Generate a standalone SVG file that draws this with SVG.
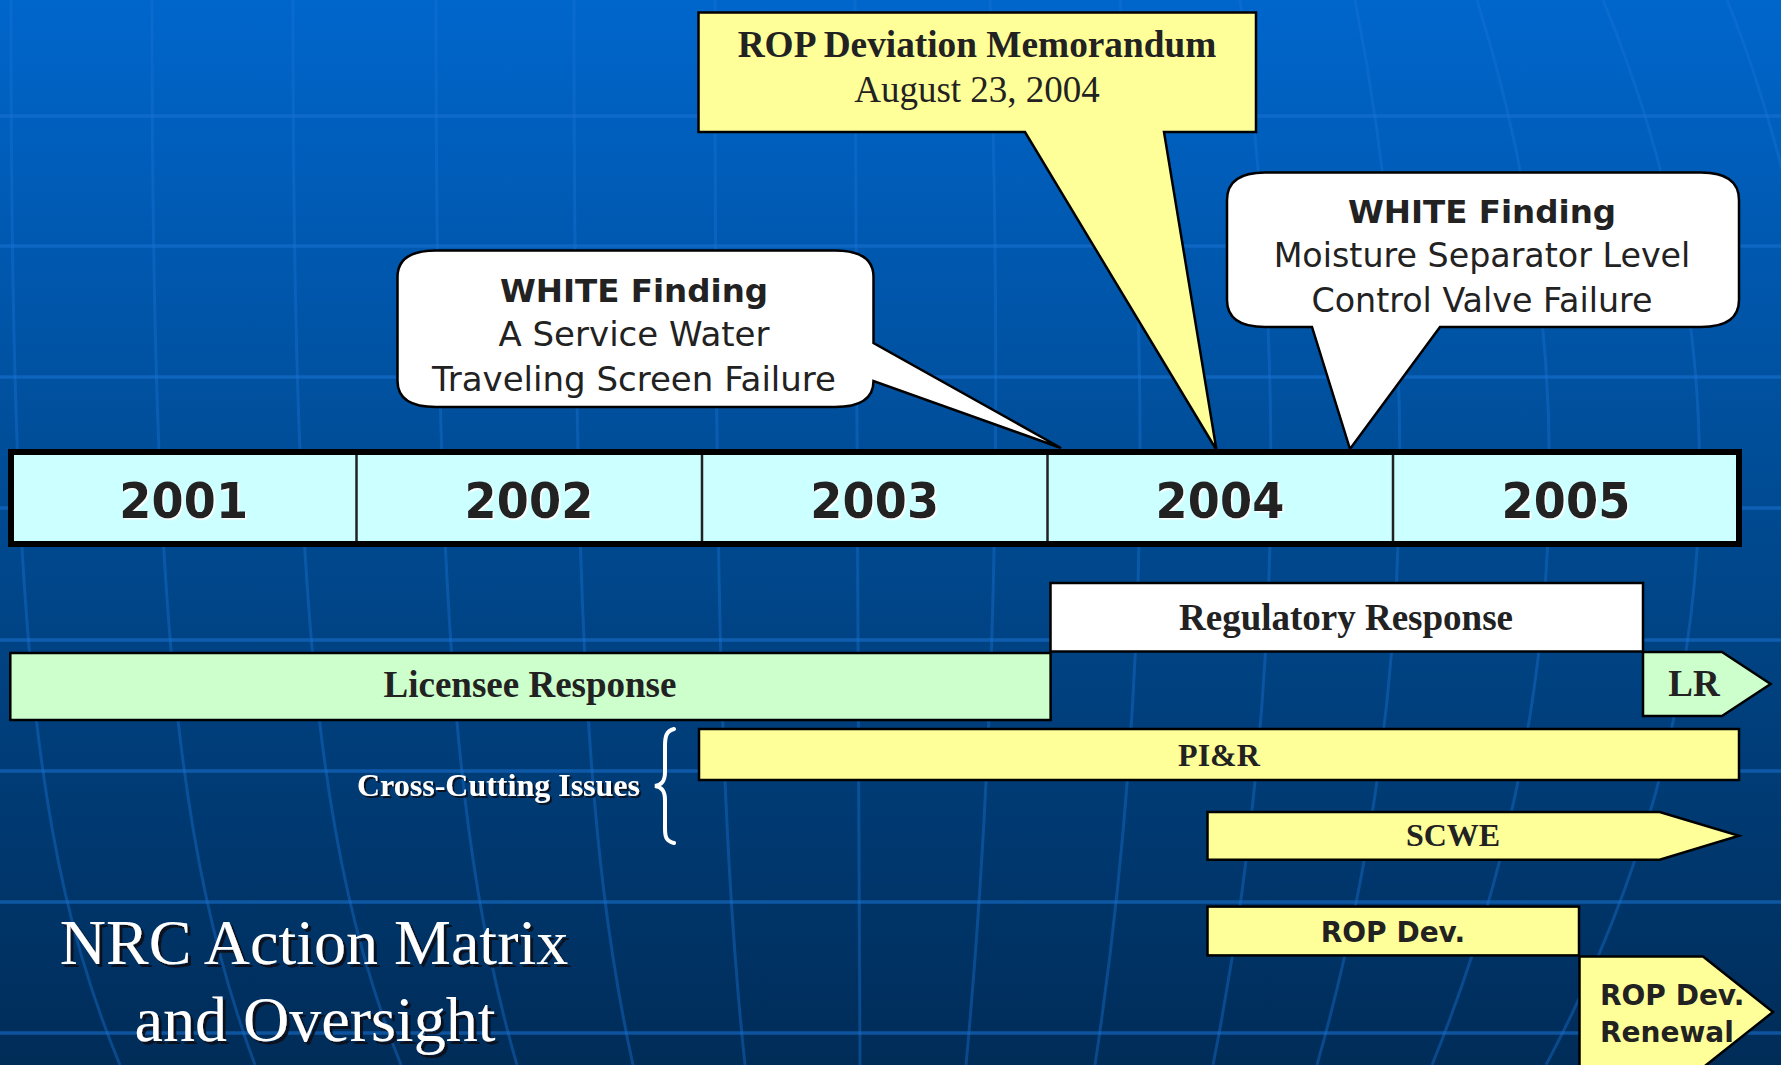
<svg xmlns="http://www.w3.org/2000/svg" width="1781" height="1065" viewBox="0 0 1781 1065">
<defs>
<linearGradient id="bg" x1="0" y1="0" x2="0" y2="1">
<stop offset="0" stop-color="#0066CC"/>
<stop offset="0.5" stop-color="#00498F"/>
<stop offset="1" stop-color="#002C58"/>
</linearGradient>
<filter id="wshadow" x="-10%" y="-20%" width="120%" height="140%">
<feDropShadow dx="1.5" dy="1.5" stdDeviation="0" flood-color="#FFFFFF" flood-opacity="1"/>
</filter>
<filter id="dshadow" x="-10%" y="-20%" width="120%" height="140%">
<feDropShadow dx="3" dy="3" stdDeviation="0" flood-color="#0A0A14" flood-opacity="0.9"/>
</filter>
<filter id="dshadow2" x="-10%" y="-20%" width="120%" height="140%">
<feDropShadow dx="2" dy="2" stdDeviation="0" flood-color="#0A0A14" flood-opacity="0.9"/>
</filter>
</defs>
<style>
.hl{stroke:#1A72D4;stroke-opacity:0.55;stroke-width:3.5;fill:none}
.ml{stroke:#1A72D4;stroke-opacity:0.4;stroke-width:3;fill:none}
.box{stroke:#000;stroke-width:2.5}
.yel{fill:#FFFF99}
.grn{fill:#CCFFCC}
.wht{fill:#FFFFFF}
.callout{fill:#FFFFFF;stroke:#000;stroke-width:2.5;stroke-linejoin:miter}
.serifb{font-family:"Liberation Serif","Times New Roman",serif;font-weight:bold;fill:#222}
.serif{font-family:"Liberation Serif","Times New Roman",serif;fill:#222}
.sans{font-family:"DejaVu Sans",Verdana,sans-serif;fill:#222}
.sansb{font-family:"DejaVu Sans",Verdana,sans-serif;font-weight:bold;fill:#222}
.year{font-family:"DejaVu Sans",Verdana,sans-serif;font-weight:bold;font-size:50.6px;fill:#222;filter:url(#wshadow)}
.mid{text-anchor:middle}
</style>
<rect x="0" y="0" width="1781" height="1065" fill="url(#bg)"/>
<g id="background-grid">
<line class="hl" x1="0" y1="116" x2="1781" y2="116"/>
<line class="hl" x1="0" y1="246" x2="1781" y2="246"/>
<line class="hl" x1="0" y1="377" x2="1781" y2="377"/>
<line class="hl" x1="0" y1="508" x2="1781" y2="508"/>
<line class="hl" x1="0" y1="640" x2="1781" y2="640"/>
<line class="hl" x1="0" y1="771" x2="1781" y2="771"/>
<line class="hl" x1="0" y1="902" x2="1781" y2="902"/>
<line class="hl" x1="0" y1="1033" x2="1781" y2="1033"/>
<path class="ml" d="M11,0 C11,600 30,850 120,1065"/>
<path class="ml" d="M152,0 C152,600 175,850 255,1065"/>
<path class="ml" d="M293,0 C293,600 315,850 401,1065"/>
<path class="ml" d="M436,0 C436,600 455,850 517,1065"/>
<path class="ml" d="M574,0 C574,600 586,850 633,1065"/>
<path class="ml" d="M715,0 C715,600 722,850 745,1065"/>
<path class="ml" d="M855,0 C856,600 858,850 860,1065"/>
<path class="ml" d="M990,0 C1000,350 1000,700 966,1065"/>
<path class="ml" d="M1120,0 C1150,350 1150,700 1095,1065"/>
<path class="ml" d="M1240,0 C1285,350 1285,700 1213,1065"/>
<path class="ml" d="M1355,0 C1420,330 1420,700 1317,1065"/>
<path class="ml" d="M1477,0 C1580,330 1580,700 1432,1065"/>
<path class="ml" d="M1603,0 C1740,330 1740,700 1546,1065"/>
<path class="ml" d="M1727,0 Q1760,80 1790,200"/>
</g>

<g id="connectors">
<path d="M674,729 C666,731 665,737 665,746 L665,772 C665,781 662,785 655,786 C662,787 665,791 665,800 L665,828 C665,837 666,841 674,843" fill="none" stroke="#FFFFFF" stroke-width="4" stroke-linecap="round"/>
</g>

<g id="rop-memo">
<path class="callout" style="fill:#FFFF99" d="M698.5,12.5 L1256,12.5 L1256,132 L1164,132 L1216.5,450 L1025,132 L698.5,132 Z"/>
<text class="serifb mid" x="977" y="57" font-size="37.3">ROP Deviation Memorandum</text>
<text class="serif mid" x="977" y="102" font-size="37">August 23, 2004</text>
</g>

<g id="white-finding-1">
<path class="callout" d="M436,250.5 L835,250.5 Q873.5,250.5 873.5,277 L873.5,343 L1061,448 L873.5,381 Q873.5,407 835,407 L436,407 Q397.5,407 397.5,381 L397.5,277 Q397.5,250.5 436,250.5 Z"/>
<text class="sansb mid" x="634" y="301.7" font-size="32.5">WHITE Finding</text>
<text class="sans mid" x="634" y="346" font-size="34">A Service Water</text>
<text class="sans mid" x="634" y="391" font-size="34">Traveling Screen Failure</text>
</g>

<g id="white-finding-2">
<path class="callout" d="M1265,172.5 L1701,172.5 Q1739,172.5 1739,200 L1739,300 Q1739,327 1701,327 L1440,327 L1350,449 L1312,327 L1265,327 Q1227,327 1227,300 L1227,200 Q1227,172.5 1265,172.5 Z"/>
<text class="sansb mid" x="1482" y="223.3" font-size="32.5">WHITE Finding</text>
<text class="sans mid" x="1482" y="267.3" font-size="33.3">Moisture Separator Level</text>
<text class="sans mid" x="1482" y="311.7" font-size="33.3">Control Valve Failure</text>
</g>

<g id="timeline">
<rect x="11" y="452" width="1728" height="92" fill="#CCFFFF" stroke="#000" stroke-width="6"/>
<line x1="356.5" y1="455" x2="356.5" y2="541" stroke="#222" stroke-width="2.5"/>
<line x1="702" y1="455" x2="702" y2="541" stroke="#222" stroke-width="2.5"/>
<line x1="1047.5" y1="455" x2="1047.5" y2="541" stroke="#222" stroke-width="2.5"/>
<line x1="1393" y1="455" x2="1393" y2="541" stroke="#222" stroke-width="2.5"/>
<text class="year mid" x="183.8" y="517.7" textLength="129" lengthAdjust="spacingAndGlyphs">2001</text>
<text class="year mid" x="529" y="517.7" textLength="129" lengthAdjust="spacingAndGlyphs">2002</text>
<text class="year mid" x="874.7" y="517.7" textLength="129" lengthAdjust="spacingAndGlyphs">2003</text>
<text class="year mid" x="1220" y="517.7" textLength="129" lengthAdjust="spacingAndGlyphs">2004</text>
<text class="year mid" x="1566" y="517.7" textLength="129" lengthAdjust="spacingAndGlyphs">2005</text>
</g>

<g id="regulatory-response">
<rect class="box wht" x="1050.5" y="583" width="592.5" height="68.5"/>
<text class="serifb mid" x="1346" y="630.4" font-size="37">Regulatory Response</text>
</g>

<g id="licensee-response">
<rect class="box grn" x="10.3" y="653" width="1040.3" height="67"/>
<text class="serifb mid" x="530" y="697.4" font-size="37">Licensee Response</text>
</g>

<g id="lr">
<path class="box grn" d="M1643,652 L1722,652 L1770.6,684 L1722,716 L1643,716 Z"/>
<text class="serifb mid" x="1694" y="696" font-size="37">LR</text>
</g>

<g id="cross-cutting">
<text x="640" y="796" font-size="32" text-anchor="end" style="font-family:'Liberation Serif','Times New Roman',serif;font-weight:bold;fill:#FFFFFF;filter:url(#dshadow2)">Cross-Cutting Issues</text>
</g>

<g id="pir">
<rect class="box yel" x="699" y="729" width="1040" height="51"/>
<text class="serifb mid" x="1219" y="766" font-size="32">PI&amp;R</text>
</g>

<g id="scwe">
<path class="box yel" d="M1207.5,812 L1659.7,812 L1739,835.8 L1659.7,859.7 L1207.5,859.7 Z"/>
<text class="serifb mid" x="1453" y="846.3" font-size="32">SCWE</text>
</g>

<g id="rop-dev">
<rect class="box yel" x="1207.5" y="906.6" width="371.5" height="48.8"/>
<text class="sansb mid" x="1393" y="941.8" font-size="28">ROP Dev.</text>
</g>

<g id="rop-dev-renewal">
<path class="box yel" d="M1579.5,956.5 L1703,956.5 L1773,1012 L1703,1067.5 L1579.5,1067.5 Z"/>
<text class="sansb" x="1600" y="1004.5" font-size="28">ROP Dev.</text>
<text class="sansb" x="1600" y="1042" font-size="28">Renewal</text>
</g>

<g id="title">
<text x="314" y="963.5" font-size="64" text-anchor="middle" style="font-family:'Liberation Serif','Times New Roman',serif;fill:#FFFFFF;filter:url(#dshadow)">NRC Action Matrix</text>
<text x="315" y="1040.5" font-size="64" text-anchor="middle" style="font-family:'Liberation Serif','Times New Roman',serif;fill:#FFFFFF;filter:url(#dshadow)">and Oversight</text>
</g>
</svg>
